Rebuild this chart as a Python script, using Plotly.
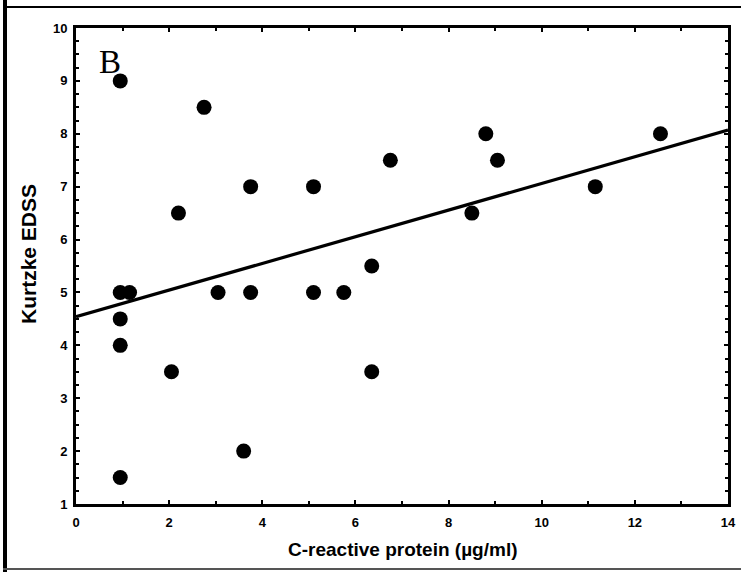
import plotly.graph_objects as go

# Data
crp = [0.95, 0.95, 0.95, 0.95, 0.95, 1.15, 2.05, 2.2, 2.75, 3.05, 3.6, 3.75, 3.75,
       5.1, 5.1, 5.75, 6.35, 6.35, 6.75, 8.5, 8.8, 9.05, 11.15, 12.55]
edss = [9.0, 5.0, 4.5, 4.0, 1.5, 5.0, 3.5, 6.5, 8.5, 5.0, 2.0, 7.0, 5.0,
        7.0, 5.0, 5.0, 5.5, 3.5, 7.5, 6.5, 8.0, 7.5, 7.0, 8.0]
fit_x = [0, 14]
fit_y = [4.54, 8.07]

x_ticks = [0, 2, 4, 6, 8, 10, 12, 14]
y_ticks = [1, 2, 3, 4, 5, 6, 7, 8, 9, 10]

x_title = "C-reactive protein (µg/ml)"
y_title = "Kurtzke EDSS"
panel_label = "B"

fig = go.Figure()
fig.add_trace(go.Scatter(x=fit_x, y=fit_y, mode="lines",
                         line=dict(color="black", width=3.2), showlegend=False,
                         hoverinfo="skip"))
fig.add_trace(go.Scatter(x=crp, y=edss, mode="markers",
                         marker=dict(color="black", size=15, line=dict(width=0)),
                         showlegend=False))

fig.add_annotation(x=0.72, y=9.36, text=panel_label, showarrow=False,
                   font=dict(family="Liberation Serif", size=33, color="black"))

tickfont = dict(family="Liberation Sans", size=13, color="black", weight="bold")

fig.update_xaxes(range=[0, 14], tickvals=x_ticks, ticktext=[str(v) for v in x_ticks],
                 ticks="inside", ticklen=4, tickwidth=2, tickcolor="black",
                 minor=dict(dtick=1, tick0=0, ticks="inside", ticklen=3, tickwidth=2, tickcolor="black"),
                 showline=True, linewidth=3, linecolor="black", mirror="allticks",
                 showgrid=False, zeroline=False, tickfont=tickfont, ticklabelstandoff=4)
fig.update_yaxes(range=[1, 10], tickvals=y_ticks, ticktext=[str(v) for v in y_ticks],
                 ticks="inside", ticklen=4, tickwidth=2, tickcolor="black",
                 minor=dict(dtick=0.25, tick0=0, ticks="inside", ticklen=3, tickwidth=2, tickcolor="black"),
                 showline=True, linewidth=3, linecolor="black", mirror="allticks",
                 showgrid=False, zeroline=False, tickfont=tickfont, ticklabelstandoff=3)

W, H = 741, 572
L, R, T, B = 76, 13, 28, 68
pw, ph = W - L - R, H - T - B

def px(x):
    return (x - L) / pw

def py(y):
    return 1 - (y - T) / ph

# axis titles
fig.add_annotation(xref="paper", yref="paper", x=px(402), y=py(549), text=x_title,
                   showarrow=False, xanchor="center", yanchor="middle",
                   font=dict(family="Liberation Sans", size=19, color="black", weight="bold"))
fig.add_annotation(xref="paper", yref="paper", x=px(28), y=py(254), text=y_title,
                   showarrow=False, textangle=-90, xanchor="center", yanchor="middle",
                   font=dict(family="Liberation Sans", size=21, color="black", weight="bold"))

# outer figure border fragments
fig.add_shape(type="line", xref="paper", yref="paper", x0=px(5), x1=px(5), y0=py(0), y1=py(572),
              line=dict(color="black", width=4))
fig.add_shape(type="line", xref="paper", yref="paper", x0=px(3), x1=px(741), y0=py(7), y1=py(7),
              line=dict(color="black", width=2))
fig.add_shape(type="line", xref="paper", yref="paper", x0=px(3), x1=px(741), y0=py(569), y1=py(569),
              line=dict(color="#555555", width=2))

fig.update_layout(width=W, height=H, margin=dict(l=L, r=R, t=T, b=B, autoexpand=False),
                  plot_bgcolor="white", paper_bgcolor="white")

fig.write_html("out.html", post_script="document.body.style.margin='0';",
               config={"displayModeBar": False})
